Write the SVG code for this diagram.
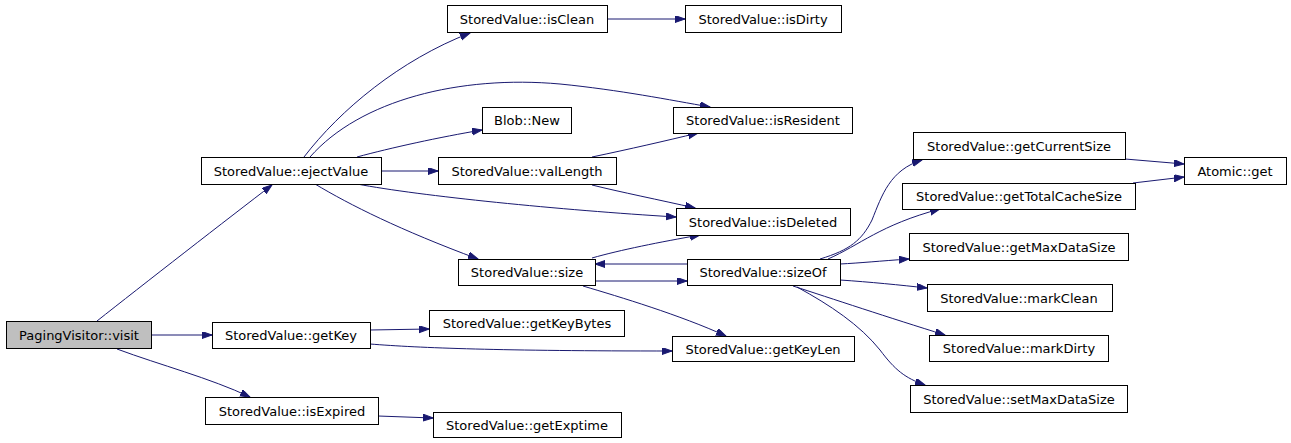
<svg xmlns="http://www.w3.org/2000/svg" width="1291" height="443" viewBox="0 0 1291 443">
<style>
.n rect{fill:#fff;stroke:#000;stroke-width:1}
.n.root rect{fill:#bfbfbf}
.n text{font-family:"DejaVu Sans",sans-serif;font-size:13px;text-anchor:middle;fill:#000}
.e path{fill:none;stroke:#191970;stroke-width:1;marker-end:url(#ah)}
</style>
<defs>
<marker id="ah" markerUnits="userSpaceOnUse" markerWidth="11" markerHeight="8" refX="10" refY="3.5" orient="auto">
<path d="M0,0 L10,3.5 L0,7 z" fill="#191970" stroke="#191970" stroke-width="1"/>
</marker>
</defs>
<rect width="1291" height="443" fill="#fff"/>
<g id="edges" class="e">
<path d="M97,321 C140,287 230,217 272,185"/>
<path d="M151,335 L212,335"/>
<path d="M117,349 C160,365 210,378 250,397"/>
<path d="M304,157 C340,110 400,60 470,33"/>
<path d="M310,157 C360,100 460,75 560,84 C620,90 670,100 710,107"/>
<path d="M357,157 C390,148 440,137 482,130"/>
<path d="M381,171 L438,171"/>
<path d="M357,184 C420,196 560,210 676,217"/>
<path d="M315,184 C350,205 400,230 478,259"/>
<path d="M592,157 C630,149 665,141 698,133"/>
<path d="M592,185 C620,192 660,200 695,208"/>
<path d="M592,258 C620,250 660,242 700,235"/>
<path d="M595,281 L687,281"/>
<path d="M687,264 L595,264"/>
<path d="M583,286 C620,297 680,315 726,336"/>
<path d="M370,330 L429,329"/>
<path d="M370,344 C420,348 500,351 672,351"/>
<path d="M378,416 L433,418"/>
<path d="M607,19 L685,19"/>
<path d="M820,259 C850,250 862,240 872,220 C882,195 890,170 922,160"/>
<path d="M828,259 C860,245 880,225 940,209"/>
<path d="M840,264 C860,263 880,261 909,259"/>
<path d="M840,280 C870,282 900,285 927,288"/>
<path d="M793,286 C830,298 890,318 945,335"/>
<path d="M797,287 C830,305 860,325 880,350 C895,370 905,378 925,385"/>
<path d="M1125,159 L1184,164"/>
<path d="M1133,183 L1184,177"/>
</g>
<g id="visit" class="n root"><rect x="6.5" y="321.5" width="145" height="27"/><text x="79" y="339.5">PagingVisitor::visit</text></g>
<g id="ejectValue" class="n"><rect x="201.5" y="157.5" width="180" height="27"/><text x="291" y="175.5">StoredValue::ejectValue</text></g>
<g id="getKey" class="n"><rect x="212.5" y="322.5" width="158" height="26"/><text x="291" y="340">StoredValue::getKey</text></g>
<g id="isExpired" class="n"><rect x="205.5" y="397.5" width="173" height="27"/><text x="292" y="415.5">StoredValue::isExpired</text></g>
<g id="isClean" class="n"><rect x="447.5" y="5.5" width="160" height="27"/><text x="527" y="23.5">StoredValue::isClean</text></g>
<g id="isDirty" class="n"><rect x="685.5" y="5.5" width="156" height="27"/><text x="763" y="23.5">StoredValue::isDirty</text></g>
<g id="blobNew" class="n"><rect x="482.5" y="107.5" width="89" height="26"/><text x="527" y="125">Blob::New</text></g>
<g id="isResident" class="n"><rect x="673.5" y="107.5" width="179" height="26"/><text x="763" y="125">StoredValue::isResident</text></g>
<g id="valLength" class="n"><rect x="438.5" y="157.5" width="178" height="27"/><text x="527" y="175.5">StoredValue::valLength</text></g>
<g id="isDeleted" class="n"><rect x="676.5" y="208.5" width="174" height="27"/><text x="763" y="226.5">StoredValue::isDeleted</text></g>
<g id="size" class="n"><rect x="458.5" y="259.5" width="137" height="26"/><text x="527" y="277">StoredValue::size</text></g>
<g id="sizeOf" class="n"><rect x="687.5" y="259.5" width="153" height="26"/><text x="763" y="277">StoredValue::sizeOf</text></g>
<g id="getKeyBytes" class="n"><rect x="429.5" y="310.5" width="195" height="26"/><text x="527" y="328">StoredValue::getKeyBytes</text></g>
<g id="getKeyLen" class="n"><rect x="672.5" y="336.5" width="182" height="25"/><text x="763" y="353.5">StoredValue::getKeyLen</text></g>
<g id="getExptime" class="n"><rect x="433.5" y="412.5" width="188" height="25"/><text x="527" y="429.5">StoredValue::getExptime</text></g>
<g id="getCurrentSize" class="n"><rect x="913.5" y="132.5" width="212" height="27"/><text x="1019" y="150.5">StoredValue::getCurrentSize</text></g>
<g id="atomicGet" class="n"><rect x="1184.5" y="157.5" width="102" height="27"/><text x="1235" y="175.5">Atomic::get</text></g>
<g id="getTotalCacheSize" class="n"><rect x="902.5" y="183.5" width="233" height="26"/><text x="1019" y="201">StoredValue::getTotalCacheSize</text></g>
<g id="getMaxDataSize" class="n"><rect x="909.5" y="233.5" width="219" height="27"/><text x="1019" y="251.5">StoredValue::getMaxDataSize</text></g>
<g id="markClean" class="n"><rect x="927.5" y="284.5" width="185" height="27"/><text x="1019" y="302.5">StoredValue::markClean</text></g>
<g id="markDirty" class="n"><rect x="929.5" y="335.5" width="179" height="26"/><text x="1019" y="353">StoredValue::markDirty</text></g>
<g id="setMaxDataSize" class="n"><rect x="910.5" y="385.5" width="217" height="27"/><text x="1019" y="403.5">StoredValue::setMaxDataSize</text></g>
</svg>
